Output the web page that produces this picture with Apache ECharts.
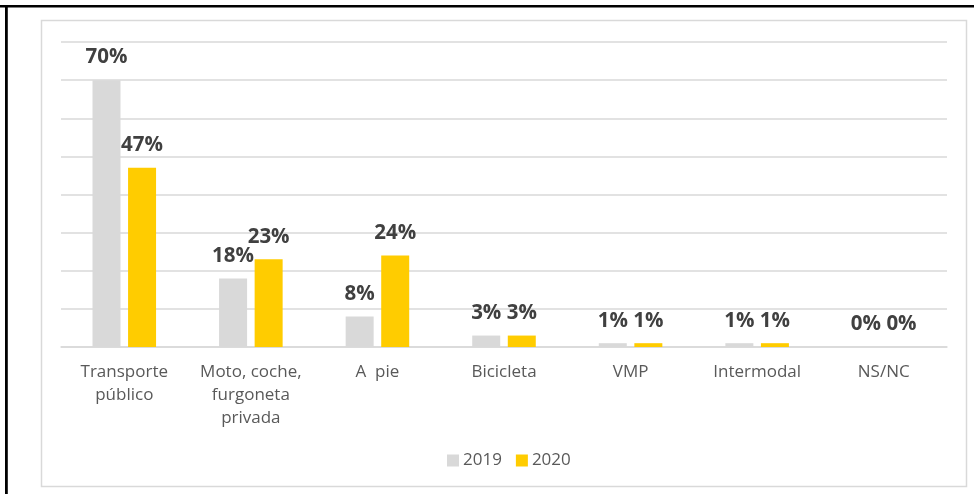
<!DOCTYPE html>
<html>
<head>
<meta charset="utf-8">
<script src="https://cdn.jsdelivr.net/npm/echarts@6/dist/echarts.min.js"></script>
<style>
  html, body { margin: 0; padding: 0; background: #ffffff; }
  #chart { width: 974px; height: 494px; }
</style>
</head>
<body>
<div id="chart"></div>
<script>
// Modal split of trips, 2019 vs 2020 (%)
const categories = ['Transporte\npúblico', 'Moto, coche,\nfurgoneta\nprivada', 'A  pie', 'Bicicleta', 'VMP', 'Intermodal', 'NS/NC'];
const values2019 = [70, 18, 8, 3, 1, 1, 0];
const values2020 = [47, 23, 24, 3, 1, 1, 0];
const seriesNames = ['2019', '2020'];

const FONT = '"Open Sans", "Noto Sans", sans-serif';
const GREY = '#d9d9d9';
const YELLOW = '#ffcc00';

const valueLabel = {
  show: true,
  position: 'top',
  distance: 12,
  formatter: p => p.value + '%',
  color: '#404040',
  fontFamily: FONT,
  fontWeight: 'bold',
  fontSize: 20.5
};

const chart = echarts.init(document.getElementById('chart'), null, { renderer: 'canvas' });

chart.setOption({
  backgroundColor: '#ffffff',
  animation: false,
  graphic: [
    // outer frame lines
    { type: 'rect', shape: { x: 0, y: 5, width: 974, height: 2.5 }, style: { fill: '#000000' }, silent: true },
    { type: 'rect', shape: { x: 5, y: 5, width: 2.8, height: 489 }, style: { fill: '#000000' }, silent: true },
    // chart area border
    { type: 'rect', shape: { x: 41.5, y: 20.5, width: 925, height: 466 }, style: { fill: 'none', stroke: GREY, lineWidth: 1.5 }, silent: true, z: -1 }
  ],
  grid: { left: 61, right: 27, top: 42, bottom: 147, containLabel: false },
  legend: {
    data: seriesNames,
    left: 442,
    top: 447,
    itemWidth: 12,
    itemHeight: 12,
    itemGap: 14,
    icon: 'rect',
    textStyle: { color: '#595959', fontFamily: FONT, fontSize: 17, padding: [0, 0, 0, -1] }
  },
  xAxis: {
    type: 'category',
    data: categories,
    axisLine: { show: true, lineStyle: { color: GREY, width: 1.5 } },
    axisTick: { show: false },
    axisLabel: {
      color: '#595959',
      fontFamily: FONT,
      fontSize: 17,
      lineHeight: 23,
      margin: 14,
      interval: 0
    }
  },
  yAxis: {
    type: 'value',
    min: 0,
    max: 80,
    interval: 10,
    axisLine: { show: false },
    axisTick: { show: false },
    axisLabel: { show: false },
    splitLine: { lineStyle: { color: GREY, width: 1.5 } }
  },
  series: [
    {
      name: seriesNames[0],
      type: 'bar',
      data: values2019,
      barWidth: 28,
      barGap: '27%',
      itemStyle: { color: GREY },
      label: valueLabel
    },
    {
      name: seriesNames[1],
      type: 'bar',
      data: values2020,
      barWidth: 28,
      itemStyle: { color: YELLOW },
      label: valueLabel
    }
  ]
});
</script>
</body>
</html>
